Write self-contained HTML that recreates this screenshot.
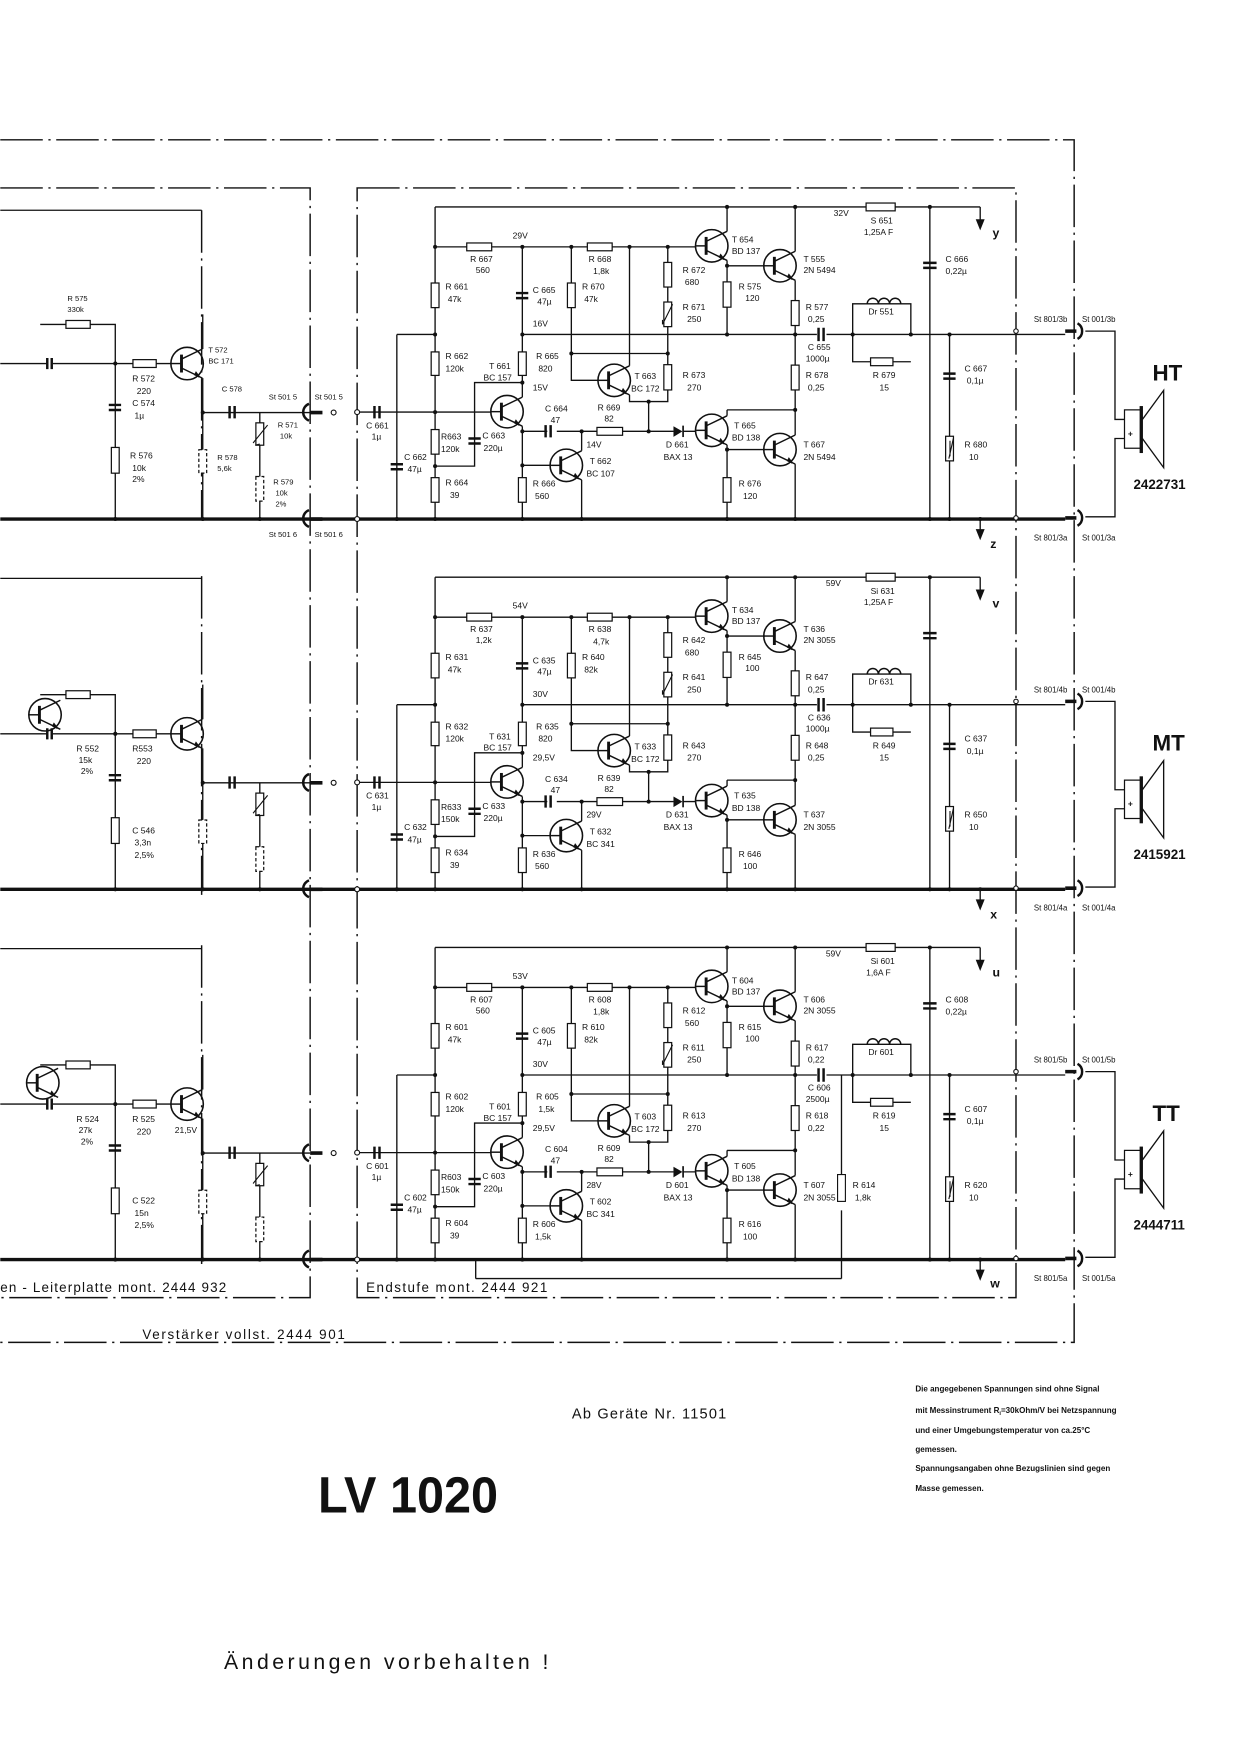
<!DOCTYPE html>
<html><head><meta charset="utf-8"><style>
html,body{margin:0;padding:0;background:#fff}
svg{display:block}
text{font-family:"Liberation Sans",sans-serif;fill:#111}
.t{font-size:7.6px}
.s{font-size:6.8px;fill:#555}
.b{font-weight:bold}
</style></head><body>
<svg width="1240" height="1754" viewBox="0 0 1108 1568" xmlns="http://www.w3.org/2000/svg">
<defs>
<g id="tr" fill="none" stroke="#111" stroke-width="1.3">
<circle cx="0" cy="0" r="14.5" stroke-width="1.4"/>
<line x1="-5" y1="-8" x2="-5" y2="8" stroke-width="2.6"/>
<line x1="-14" y1="0" x2="-5" y2="0"/>
<line x1="-5" y1="-4" x2="13.7" y2="-13"/>
<line x1="-5" y1="4" x2="13.7" y2="13"/>
<path d="M7 10 L11 12 L8 8 Z" fill="#111"/>
</g>
<g id="ch">
<path fill="none" stroke="#111" stroke-width="1.2" d="
M388.7 185H876 M388.7 185V464 M388.7 220.7H622
M354.5 299H388.7 M354.5 299V464 M318 368.4H439
M388.7 416.7H424V342H466.7 M466.7 220.7V355 M466.7 381V464
M466.7 299H710.6 M466.7 385.6H489 M497.5 385.6H601.8 M610.4 385.6H622
M519.7 385.6V403 M466.7 416H492 M519.7 429V464
M510.5 220.7V340H534.8 M510.5 316H596.7 M596.7 220.7V359H562.5V353 M579.6 359V385.6
M562.5 220.7V327 M649.7 185V206.8 M649.7 232.8V299 M649.7 237.6H683.6
M710.6 185V224.6 M710.6 250.6V388.9 M649.7 366.4H710.6 M649.7 366.4V371.7
M649.7 397.7V464 M649.7 401.9H683.6 M710.6 414.9V464
M710.6 299H730 M738.6 299H952
M762 299V271.6H814V299 M762 299V323.4H814
M831 185V464 M848.6 299V464 M876 185V198 M876 464V474
M970 296H996.5V375H1005 M1005 392H996.5V462H970
M0 325H42 M47 325H153 M35.7 290H102.8V325 M102.8 325V464
M181 312V281 M181 338V368.8H277 M232 368.8V464 M181 368.8V464"/>
<path d="M0 464H952" stroke="#111" stroke-width="3"/>
<path d="M952 296H962 M952 463H962 M277 368.8H288 M277 464H288" stroke="#111" stroke-width="3.2"/>
<path d="M963 289A8 8 0 0 1 963 303 M963 456A8 8 0 0 1 963 470 M276 361A8 8 0 0 0 276 376 M276 456A8 8 0 0 0 276 471" fill="none" stroke="#111" stroke-width="2.2"/>
<circle cx="298" cy="368.8" r="2.2" fill="#fff" stroke="#111"/>
<circle cx="319" cy="368.4" r="2.2" fill="#fff" stroke="#111"/>
<circle cx="319" cy="464" r="2.2" fill="#fff" stroke="#111"/>
<circle cx="908" cy="296" r="2" fill="#fff" stroke="#111"/>
<circle cx="908" cy="463" r="2" fill="#fff" stroke="#111"/>
<path d="M872 196L880 196L876 206Z M872 473L880 473L876 483Z" fill="#111"/>
<g fill="#fff" stroke="#111" stroke-width="1.1">
<rect x="385.2" y="253" width="7" height="22"/><rect x="385.2" y="314.6" width="7" height="21"/>
<rect x="385.2" y="384" width="7" height="22"/><rect x="385.2" y="427" width="7" height="22"/>
<rect x="463.2" y="314.6" width="7" height="21"/><rect x="463.2" y="427" width="7" height="22"/>
<rect x="507" y="253" width="7" height="22"/><rect x="593.2" y="234.6" width="7" height="22"/>
<rect x="593.2" y="270" width="7" height="22"/><rect x="593.2" y="326" width="7" height="22.6"/>
<rect x="646.2" y="252" width="7" height="22.6"/><rect x="707.1" y="268.7" width="7" height="22.3"/>
<rect x="707.1" y="326.4" width="7" height="22.2"/><rect x="646.2" y="427" width="7" height="22"/>
<rect x="845.1" y="390" width="7" height="22"/>
<rect x="417" y="217.2" width="22.3" height="7"/><rect x="524.8" y="217.2" width="22.2" height="7"/>
<rect x="533.4" y="382.1" width="22.9" height="7"/><rect x="778" y="319.9" width="20" height="7"/>
<rect x="774" y="181.5" width="26" height="7"/>
<rect x="118.6" y="321.5" width="20.8" height="7"/><rect x="58.7" y="286.5" width="21.7" height="7"/>
<rect x="99.3" y="400" width="7" height="23"/><rect x="228.5" y="378" width="7" height="20"/>
<rect x="177.5" y="402" width="7" height="21" stroke-dasharray="3 2"/><rect x="228.5" y="426" width="7" height="22" stroke-dasharray="3 2"/>
<rect x="1005" y="366.4" width="15" height="34.3"/>
</g>
<path d="M592 290L601 272M592 290l0-4M849 408L849 394 M848 410L852 392 M226 396L239 380M228 398l4-1" stroke="#111" fill="none" stroke-width="1"/>
<path d="M775 271.6a5 5 0 0 1 10 0a5 5 0 0 1 10 0a5 5 0 0 1 10 0" fill="none" stroke="#111" stroke-width="1.3"/>
<path d="M1020 363V405" stroke="#111" stroke-width="3"/>
<path d="M1021 375L1040 349V418L1021 392" fill="none" stroke="#111" stroke-width="1.2"/>
<text x="1008" y="390" class="t b">+</text>
<g stroke="#111" stroke-width="2.2">
<path d="M334.5 363V374 M339 363V374 M487.5 380V391 M492 380V391 M731.5 293V305 M736 293V305"/>
<path d="M461 262H472 M461 266.5H472 M349 415H360 M349 419.5H360 M418.5 392H429.5 M418.5 396.5H429.5 M825 235H837 M825 239.5H837 M843 334H854 M843 338.5H854 M97 362H108 M97 366.5H108"/>
<path d="M42 320V330 M46 320V330 M205 363V374 M209.5 363V374"/>
</g>
<path d="M601.8 381L601.8 390.5L609.8 385.6Z" fill="#111"/><path d="M610.4 380.5V390.7" stroke="#111" stroke-width="1.5"/>
<use href="#tr" x="453" y="368"/><use href="#tr" x="506" y="416"/><use href="#tr" x="548.8" y="340"/>
<use href="#tr" x="636" y="219.8"/><use href="#tr" x="697" y="237.6"/><use href="#tr" x="636" y="384.7"/>
<use href="#tr" x="697" y="401.9"/><use href="#tr" x="167" y="325"/>
<g fill="#111">
<circle cx="388.7" cy="220.7" r="1.8"/><circle cx="388.7" cy="299" r="1.8"/><circle cx="388.7" cy="368.4" r="1.8"/>
<circle cx="388.7" cy="416.7" r="1.8"/><circle cx="466.7" cy="220.7" r="1.8"/><circle cx="466.7" cy="299" r="1.8"/>
<circle cx="466.7" cy="342" r="1.8"/><circle cx="466.7" cy="385.6" r="1.8"/><circle cx="466.7" cy="416" r="1.8"/>
<circle cx="519.7" cy="385.6" r="1.8"/><circle cx="579.6" cy="385.6" r="1.8"/><circle cx="579.6" cy="359" r="1.8"/>
<circle cx="510.5" cy="220.7" r="1.8"/><circle cx="510.5" cy="316" r="1.8"/><circle cx="596.7" cy="316" r="1.8"/>
<circle cx="562.5" cy="220.7" r="1.8"/><circle cx="596.7" cy="220.7" r="1.8"/><circle cx="649.7" cy="185" r="1.8"/>
<circle cx="710.6" cy="185" r="1.8"/><circle cx="649.7" cy="237.6" r="1.8"/><circle cx="649.7" cy="299" r="1.8"/>
<circle cx="710.6" cy="299" r="1.8"/><circle cx="710.6" cy="366.4" r="1.8"/><circle cx="649.7" cy="401.9" r="1.8"/>
<circle cx="762" cy="299" r="1.8"/><circle cx="814" cy="299" r="1.8"/><circle cx="831" cy="185" r="1.8"/>
<circle cx="848.6" cy="299" r="1.8"/><circle cx="102.8" cy="325" r="1.8"/><circle cx="181" cy="368.8" r="1.8"/>
<circle cx="354.5" cy="464" r="1.8"/><circle cx="388.7" cy="464" r="1.8"/><circle cx="466.7" cy="464" r="1.8"/>
<circle cx="519.7" cy="464" r="1.8"/><circle cx="649.7" cy="464" r="1.8"/><circle cx="710.6" cy="464" r="1.8"/>
<circle cx="831" cy="464" r="1.8"/><circle cx="848.6" cy="464" r="1.8"/><circle cx="876" cy="464" r="1.8"/>
<circle cx="102.8" cy="464" r="1.8"/><circle cx="181" cy="464" r="1.8"/><circle cx="232" cy="464" r="1.8"/>
</g>
</g>
</defs>

<g fill="none" stroke="#111" stroke-width="1.3" stroke-dasharray="38 5 2 5">
<path d="M0 125H960V1200H0"/>
<path d="M0 168H277V1160H0"/>
<path d="M319 168H908V1160H319Z"/>
<path d="M180 515V800 M180 845V1130 M180 188V464"/>
</g>
<path d="M0 188H180 M0 517H180 M0 848H180" stroke="#111" stroke-width="1.1"/>

<use href="#ch"/>
<use href="#ch" y="331"/>
<use href="#ch" y="662"/>
<use href="#tr" x="40" y="639"/><use href="#tr" x="38" y="968"/>
<path d="M752 1143V1082 M425 1143H752 M425 1143V1127" stroke="#111" stroke-width="1.2" fill="none"/>
<rect x="748.5" y="1050" width="7" height="24" fill="#fff" stroke="#111"/>
<path d="M752 1050V961" stroke="#111" stroke-width="1.2"/>

<g class="t">
<text x="458" y="213">29V</text>
<text x="420" y="234">R 667</text><text x="425" y="244">560</text>
<text x="398" y="259">R 661</text><text x="400" y="270">47k</text>
<text x="398" y="321">R 662</text><text x="398" y="332">120k</text>
<text x="394" y="393">R663</text><text x="394" y="404">120k</text>
<text x="361" y="411">C 662</text><text x="364" y="422">47µ</text>
<text x="398" y="434">R 664</text><text x="402" y="445">39</text>
<text x="327" y="383">C 661</text><text x="332" y="393">1µ</text>
<text x="437" y="330">T 661</text><text x="432" y="340">BC 157</text>
<text x="431" y="392">C 663</text><text x="432" y="403">220µ</text>
<text x="476" y="262">C 665</text><text x="480" y="272">47µ</text>
<text x="476" y="292">16V</text>
<text x="479" y="321">R 665</text><text x="481" y="332">820</text>
<text x="476" y="349">15V</text>
<text x="487" y="368">C 664</text><text x="492" y="378">47</text>
<text x="524" y="400">14V</text>
<text x="476" y="435">R 666</text><text x="478" y="446">560</text>
<text x="527" y="415">T 662</text><text x="524" y="426">BC 107</text>
<text x="526" y="234">R 668</text><text x="530" y="245">1,8k</text>
<text x="520" y="259">R 670</text><text x="522" y="270">47k</text>
<text x="534" y="367">R 669</text><text x="540" y="377">82</text>
<text x="567" y="339">T 663</text><text x="564" y="350">BC 172</text>
<text x="610" y="244">R 672</text><text x="612" y="255">680</text>
<text x="610" y="277">R 671</text><text x="614" y="288">250</text>
<text x="610" y="338">R 673</text><text x="614" y="349">270</text>
<text x="595" y="400">D 661</text><text x="593" y="411">BAX 13</text>
<text x="654" y="217">T 654</text><text x="654" y="227">BD 137</text>
<text x="718" y="234">T 555</text><text x="718" y="244">2N 5494</text>
<text x="660" y="259">R 575</text><text x="666" y="269">120</text>
<text x="720" y="277">R 577</text><text x="722" y="288">0,25</text>
<text x="722" y="313">C 655</text><text x="720" y="323">1000µ</text>
<text x="720" y="338">R 678</text><text x="722" y="349">0,25</text>
<text x="656" y="383">T 665</text><text x="654" y="394">BD 138</text>
<text x="718" y="400">T 667</text><text x="718" y="411">2N 5494</text>
<text x="660" y="435">R 676</text><text x="664" y="446">120</text>
<text x="776" y="281">Dr 551</text>
<text x="780" y="338">R 679</text><text x="786" y="349">15</text>
<text x="745" y="193">32V</text>
<text x="778" y="200">S 651</text><text x="772" y="210">1,25A F</text>
<text x="845" y="234">C 666</text><text x="845" y="245">0,22µ</text>
<text x="862" y="332">C 667</text><text x="864" y="343">0,1µ</text>
<text x="862" y="400">R 680</text><text x="866" y="411">10</text>
<text x="924" y="288" style="font-size:7px">St 801/3b</text><text x="967" y="288" style="font-size:7px">St 001/3b</text>
<text x="924" y="483" style="font-size:7px">St 801/3a</text><text x="967" y="483" style="font-size:7px">St 001/3a</text>
<text x="118" y="341">R 572</text><text x="122" y="352">220</text>
<text x="118" y="363">C 574</text><text x="120" y="374">1µ</text>
<text x="116" y="410">R 576</text><text x="118" y="421">10k</text><text x="118" y="431">2%</text>
</g>
<g class="s">
<text x="60" y="269">R 575</text><text x="60" y="279">330k</text>
<text x="186" y="315">T 572</text><text x="186" y="325">BC 171</text>
<text x="198" y="350">C 578</text><text x="248" y="382">R 571</text><text x="250" y="392">10k</text>
<text x="194" y="411">R 578</text><text x="194" y="421">5,6k</text>
<text x="244" y="433">R 579</text><text x="246" y="443">10k</text><text x="246" y="453">2%</text>
<text x="240" y="357">St 501 5</text><text x="281" y="357">St 501 5</text>
<text x="240" y="480">St 501 6</text><text x="281" y="480">St 501 6</text>
</g>
<text x="887" y="212" class="b" style="font-size:11px">y</text>
<text x="885" y="490" class="b" style="font-size:11px">z</text>
<text x="1030" y="340" class="b" style="font-size:20px">HT</text>
<text x="1013" y="437" class="b" style="font-size:12px">2422731</text>

<g class="t" transform="translate(0,331)">
<text x="458" y="213">54V</text>
<text x="420" y="234">R 637</text><text x="425" y="244">1,2k</text>
<text x="398" y="259">R 631</text><text x="400" y="270">47k</text>
<text x="398" y="321">R 632</text><text x="398" y="332">120k</text>
<text x="394" y="393">R633</text><text x="394" y="404">150k</text>
<text x="361" y="411">C 632</text><text x="364" y="422">47µ</text>
<text x="398" y="434">R 634</text><text x="402" y="445">39</text>
<text x="327" y="383">C 631</text><text x="332" y="393">1µ</text>
<text x="437" y="330">T 631</text><text x="432" y="340">BC 157</text>
<text x="431" y="392">C 633</text><text x="432" y="403">220µ</text>
<text x="476" y="262">C 635</text><text x="480" y="272">47µ</text>
<text x="476" y="292">30V</text>
<text x="479" y="321">R 635</text><text x="481" y="332">820</text>
<text x="476" y="349">29,5V</text>
<text x="487" y="368">C 634</text><text x="492" y="378">47</text>
<text x="524" y="400">29V</text>
<text x="476" y="435">R 636</text><text x="478" y="446">560</text>
<text x="527" y="415">T 632</text><text x="524" y="426">BC 341</text>
<text x="526" y="234">R 638</text><text x="530" y="245">4,7k</text>
<text x="520" y="259">R 640</text><text x="522" y="270">82k</text>
<text x="534" y="367">R 639</text><text x="540" y="377">82</text>
<text x="567" y="339">T 633</text><text x="564" y="350">BC 172</text>
<text x="610" y="244">R 642</text><text x="612" y="255">680</text>
<text x="610" y="277">R 641</text><text x="614" y="288">250</text>
<text x="610" y="338">R 643</text><text x="614" y="349">270</text>
<text x="595" y="400">D 631</text><text x="593" y="411">BAX 13</text>
<text x="654" y="217">T 634</text><text x="654" y="227">BD 137</text>
<text x="718" y="234">T 636</text><text x="718" y="244">2N 3055</text>
<text x="660" y="259">R 645</text><text x="666" y="269">100</text>
<text x="720" y="277">R 647</text><text x="722" y="288">0,25</text>
<text x="722" y="313">C 636</text><text x="720" y="323">1000µ</text>
<text x="720" y="338">R 648</text><text x="722" y="349">0,25</text>
<text x="656" y="383">T 635</text><text x="654" y="394">BD 138</text>
<text x="718" y="400">T 637</text><text x="718" y="411">2N 3055</text>
<text x="660" y="435">R 646</text><text x="664" y="446">100</text>
<text x="776" y="281">Dr 631</text>
<text x="780" y="338">R 649</text><text x="786" y="349">15</text>
<text x="738" y="193">59V</text>
<text x="778" y="200">Si 631</text><text x="772" y="210">1,25A F</text>
<text x="862" y="332">C 637</text><text x="864" y="343">0,1µ</text>
<text x="862" y="400">R 650</text><text x="866" y="411">10</text>
<text x="924" y="288" style="font-size:7px">St 801/4b</text><text x="967" y="288" style="font-size:7px">St 001/4b</text>
<text x="924" y="483" style="font-size:7px">St 801/4a</text><text x="967" y="483" style="font-size:7px">St 001/4a</text>
<text x="118" y="341">R553</text><text x="122" y="352">220</text>
<text x="118" y="414">C 546</text><text x="120" y="425">3,3n</text><text x="120" y="436">2,5%</text>
<text x="68" y="341">R 552</text><text x="70" y="351">15k</text><text x="72" y="361">2%</text>
</g>
<text x="887" y="543" class="b" style="font-size:11px">v</text>
<text x="885" y="821" class="b" style="font-size:11px">x</text>
<text x="1030" y="671" class="b" style="font-size:20px">MT</text>
<text x="1013" y="768" class="b" style="font-size:12px">2415921</text>

<g class="t" transform="translate(0,662)">
<text x="458" y="213">53V</text>
<text x="420" y="234">R 607</text><text x="425" y="244">560</text>
<text x="398" y="259">R 601</text><text x="400" y="270">47k</text>
<text x="398" y="321">R 602</text><text x="398" y="332">120k</text>
<text x="394" y="393">R603</text><text x="394" y="404">150k</text>
<text x="361" y="411">C 602</text><text x="364" y="422">47µ</text>
<text x="398" y="434">R 604</text><text x="402" y="445">39</text>
<text x="327" y="383">C 601</text><text x="332" y="393">1µ</text>
<text x="437" y="330">T 601</text><text x="432" y="340">BC 157</text>
<text x="431" y="392">C 603</text><text x="432" y="403">220µ</text>
<text x="476" y="262">C 605</text><text x="480" y="272">47µ</text>
<text x="476" y="292">30V</text>
<text x="479" y="321">R 605</text><text x="481" y="332">1,5k</text>
<text x="476" y="349">29,5V</text>
<text x="487" y="368">C 604</text><text x="492" y="378">47</text>
<text x="524" y="400">28V</text>
<text x="476" y="435">R 606</text><text x="478" y="446">1,5k</text>
<text x="527" y="415">T 602</text><text x="524" y="426">BC 341</text>
<text x="526" y="234">R 608</text><text x="530" y="245">1,8k</text>
<text x="520" y="259">R 610</text><text x="522" y="270">82k</text>
<text x="534" y="367">R 609</text><text x="540" y="377">82</text>
<text x="567" y="339">T 603</text><text x="564" y="350">BC 172</text>
<text x="610" y="244">R 612</text><text x="612" y="255">560</text>
<text x="610" y="277">R 611</text><text x="614" y="288">250</text>
<text x="610" y="338">R 613</text><text x="614" y="349">270</text>
<text x="595" y="400">D 601</text><text x="593" y="411">BAX 13</text>
<text x="654" y="217">T 604</text><text x="654" y="227">BD 137</text>
<text x="718" y="234">T 606</text><text x="718" y="244">2N 3055</text>
<text x="660" y="259">R 615</text><text x="666" y="269">100</text>
<text x="720" y="277">R 617</text><text x="722" y="288">0,22</text>
<text x="722" y="313">C 606</text><text x="720" y="323">2500µ</text>
<text x="720" y="338">R 618</text><text x="722" y="349">0,22</text>
<text x="656" y="383">T 605</text><text x="654" y="394">BD 138</text>
<text x="718" y="400">T 607</text><text x="718" y="411">2N 3055</text>
<text x="660" y="435">R 616</text><text x="664" y="446">100</text>
<text x="762" y="400">R 614</text><text x="764" y="411">1,8k</text>
<text x="776" y="281">Dr 601</text>
<text x="780" y="338">R 619</text><text x="786" y="349">15</text>
<text x="738" y="193">59V</text>
<text x="778" y="200">Si 601</text><text x="774" y="210">1,6A F</text>
<text x="845" y="234">C 608</text><text x="845" y="245">0,22µ</text>
<text x="862" y="332">C 607</text><text x="864" y="343">0,1µ</text>
<text x="862" y="400">R 620</text><text x="866" y="411">10</text>
<text x="924" y="288" style="font-size:7px">St 801/5b</text><text x="967" y="288" style="font-size:7px">St 001/5b</text>
<text x="924" y="483" style="font-size:7px">St 801/5a</text><text x="967" y="483" style="font-size:7px">St 001/5a</text>
<text x="118" y="341">R 525</text><text x="122" y="352">220</text>
<text x="118" y="414">C 522</text><text x="120" y="425">15n</text><text x="120" y="436">2,5%</text>
<text x="68" y="341">R 524</text><text x="70" y="351">27k</text><text x="72" y="361">2%</text>
<text x="156" y="351">21,5V</text>
</g>
<text x="887" y="873" class="b" style="font-size:11px">u</text>
<text x="885" y="1151" class="b" style="font-size:11px">w</text>
<text x="1030" y="1002" class="b" style="font-size:20px">TT</text>
<text x="1013" y="1099" class="b" style="font-size:12px">2444711</text>

<text x="0" y="1155" style="font-size:12px" textLength="202" lengthAdjust="spacing">en - Leiterplatte mont.  2444 932</text>
<text x="327" y="1155" style="font-size:12px" textLength="162" lengthAdjust="spacing">Endstufe  mont.  2444 921</text>
<text x="127" y="1197" style="font-size:12px" textLength="181" lengthAdjust="spacing">Verstärker  vollst.   2444 901</text>
<text x="511" y="1268" style="font-size:13px" textLength="138" lengthAdjust="spacing">Ab Geräte Nr. 11501</text>
<text x="284" y="1352" class="b" style="font-size:46px" textLength="161" lengthAdjust="spacingAndGlyphs">LV 1020</text>
<text x="200" y="1492" style="font-size:19px" textLength="290" lengthAdjust="spacing">Änderungen    vorbehalten !</text>
<g class="b" style="font-size:7.2px">
<text x="818" y="1244">Die angegebenen Spannungen sind ohne Signal</text>
<text x="818" y="1263">mit Messinstrument R<tspan style="font-size:5px" dy="2">i</tspan><tspan dy="-2">=30kOhm/V bei Netzspannung</tspan></text>
<text x="818" y="1281">und einer Umgebungstemperatur  von ca.25°C</text>
<text x="818" y="1298">gemessen.</text>
<text x="818" y="1315">Spannungsangaben ohne Bezugslinien sind  gegen</text>
<text x="818" y="1333">Masse gemessen.</text>
</g>
</svg>
</body></html>
